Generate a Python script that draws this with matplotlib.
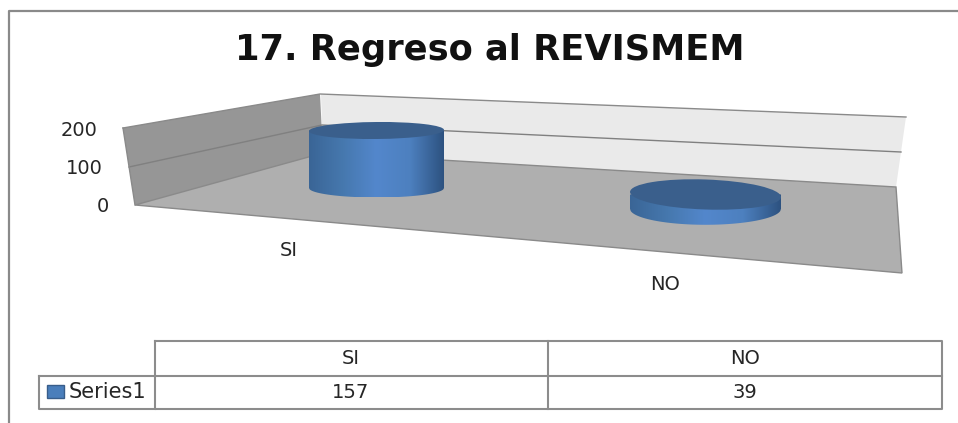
import numpy as np
import matplotlib
matplotlib.use("Agg")
import matplotlib.pyplot as plt
from matplotlib.patches import Polygon, Rectangle, Ellipse
from matplotlib.colors import LinearSegmentedColormap

categories = ["SI", "NO"]
values = [157, 39]
series_name = "Series1"
y_ticks = [0, 100, 200]
title = "17. Regreso al REVISMEM"

W, H = 958, 423
fig = plt.figure(figsize=(W/100, H/100), dpi=100)
ax = fig.add_axes([0, 0, 1, 1])
ax.set_xlim(0, W); ax.set_ylim(H, 0); ax.axis("off")
FONT = "DejaVu Sans"
TXT = "#262626"
SMALL = 14

# chart frame
ax.plot([9.5, 9.5, W], [H, 11, 11], color="#8a8a8a", lw=1.6, solid_capstyle="butt")
ax.text(490, 60, title, ha="center", va="baseline", fontsize=25.4, fontweight="bold", family=FONT, color="#111111")

# walls and floor
ax.add_patch(Polygon([(321,94),(906,117),(896,187),(323,153)], fc="#eaeaea", ec="none", zorder=1))
ax.add_patch(Polygon([(123,128),(320,94),(323,154),(135,205)], fc="#969696", ec="none", zorder=1))
ax.add_patch(Polygon([(135,205),(323,153),(896,187),(902,273)], fc="#afafaf", ec="#8a8a8a", lw=1, zorder=2))
ax.plot([123,320,906],[128,94,117], color="#8a8a8a", lw=1, zorder=3)
ax.plot([129,322,901],[167,125,152], color="#808080", lw=1, zorder=3)
ax.plot([123,135],[128,205], color="#8a8a8a", lw=1, zorder=3)

# y tick labels
for v, yp, xr in zip(y_ticks, [204,166,128], [109,103,98]):
    ax.text(xr, yp, str(v), ha="right", va="center_baseline", fontsize=SMALL, family=FONT, color=TXT)

# cylinders
PX_PER_UNIT = 57.5/157
cmap = LinearSegmentedColormap.from_list("cyl", ["#3a6596","#4678ae","#5387cc","#4d80bf","#2d5280"])
geom = [(376.5, 67.5, 8.5, 130.5, -0.5),   # x-centre, half-width, half-height, top-centre y, tilt
        (705.5, 75.5, 15, 194.5, 2)]
for val, (cx, rx, ry, ty, tilt) in zip(values, geom):
    h = val*PX_PER_UNIT
    xs = np.linspace(-1, 1, 200)
    yb = ty+h+(ry+1)*np.sqrt(1-xs**2)
    verts = list(zip(cx+rx*xs, np.full(200, ty))) + list(zip((cx+rx*xs)[::-1], yb[::-1]))
    clip = Polygon(verts, fc="none", ec="none", zorder=4)
    ax.add_patch(clip)
    im = ax.imshow(np.linspace(0,1,256)[None,:], extent=[cx-rx, cx+rx, ty+h+ry+1, ty], cmap=cmap, aspect="auto", zorder=4)
    im.set_clip_path(clip)
    ax.add_patch(Ellipse((cx, ty), 2*rx, 2*ry, angle=tilt, fc="#3a5f8c", ec="none", zorder=5))
ax.set_xlim(0, W); ax.set_ylim(H, 0)

# category labels
ax.text(289, 249, categories[0], ha="center", va="center_baseline", fontsize=SMALL, family=FONT, color=TXT)
ax.text(665, 282, categories[1], ha="center", va="center_baseline", fontsize=SMALL, family=FONT, color=TXT)

# data table
g = "#8c8c8c"
ax.plot([155,942,942,155,155],[341,341,409,409,341], color=g, lw=1.5, zorder=6)
ax.plot([39,942],[376,376], color=g, lw=1.5, zorder=6)
ax.plot([39,39,155],[376,409,409], color=g, lw=1.5, zorder=6)
ax.plot([548,548],[341,409], color=g, lw=1.5, zorder=6)
for x, c, v in zip([351, 745], categories, values):
    ax.text(x, 357, c, ha="center", va="center_baseline", fontsize=SMALL, family=FONT, color=TXT)
    ax.text(x, 391, str(v), ha="center", va="center_baseline", fontsize=SMALL, family=FONT, color=TXT)
ax.add_patch(Rectangle((47,385), 17, 13.5, fc="#4a7ebb", ec="#385d8a", lw=1, zorder=6))
ax.text(69, 390, series_name, ha="left", va="center_baseline", fontsize=15, family=FONT, color=TXT)

fig.savefig("out.png", dpi=100)
